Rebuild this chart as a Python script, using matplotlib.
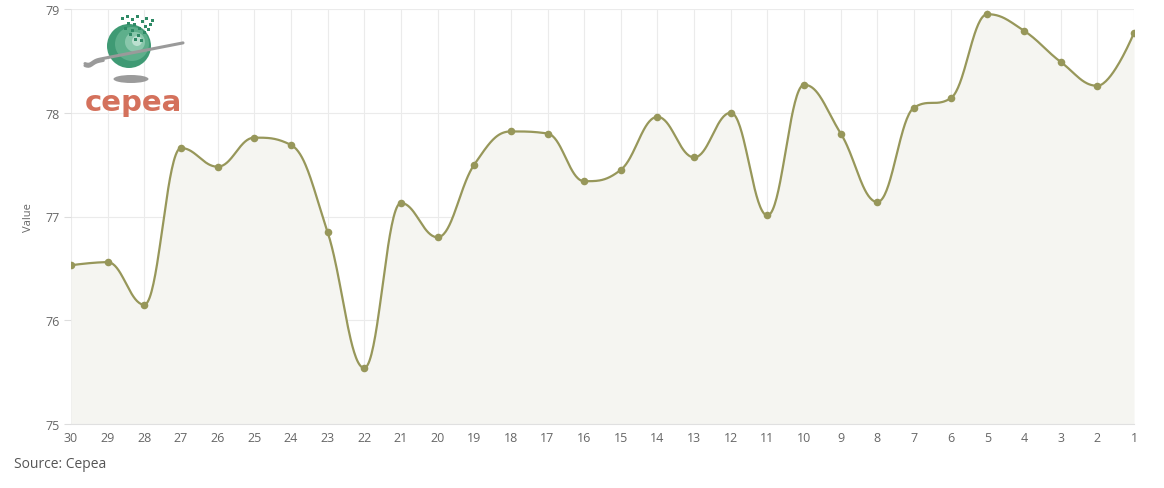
import numpy as np
import matplotlib
matplotlib.use("Agg")
import matplotlib.pyplot as plt
from matplotlib.patches import Circle, Ellipse

# ---- data ----
days = [30, 29, 28, 27, 26, 25, 24, 23, 22, 21, 20, 19, 18, 17, 16,
        15, 14, 13, 12, 11, 10, 9, 8, 7, 6, 5, 4, 3, 2, 1]
values = [76.53, 76.56, 76.15, 77.66, 77.48, 77.76, 77.69, 76.85, 75.54, 77.13,
          76.80, 77.50, 77.82, 77.80, 77.34, 77.45, 77.96, 77.57, 78.00, 77.01,
          78.27, 77.80, 77.14, 78.05, 78.14, 78.95, 78.79, 78.49, 78.26, 78.77]
y_ticks = [75, 76, 77, 78, 79]
y_label = "Value"
source_text = "Source: Cepea"

plt.rcParams['font.family'] = ['Open Sans', 'DejaVu Sans']

LINE = "#97975a"
FILL = "#f5f5f1"
GRID = "#ebebeb"
TXT = "#666666"


def spline_points(xs, ys, n=40, smoothing=1.5):
    xs = np.asarray(xs, float)
    ys = np.asarray(ys, float)
    N = len(xs)
    denom = smoothing + 1
    lc = [(xs[i], ys[i]) for i in range(N)]
    rc = [(xs[i], ys[i]) for i in range(N)]
    for i in range(1, N - 1):
        px, py = xs[i], ys[i]
        lx, ly = xs[i - 1], ys[i - 1]
        nx, ny = xs[i + 1], ys[i + 1]
        lcx = (smoothing * px + lx) / denom
        lcy = (smoothing * py + ly) / denom
        rcx = (smoothing * px + nx) / denom
        rcy = (smoothing * py + ny) / denom
        if rcx != lcx:
            corr = ((rcy - lcy) * (rcx - px)) / (rcx - lcx) + py - rcy
            lcy += corr
            rcy += corr
        if lcy > max(ly, py):
            lcy = max(ly, py); rcy = 2 * py - lcy
        elif lcy < min(ly, py):
            lcy = min(ly, py); rcy = 2 * py - lcy
        if rcy > max(py, ny):
            rcy = max(py, ny); lcy = 2 * py - rcy
        elif rcy < min(py, ny):
            rcy = min(py, ny); lcy = 2 * py - rcy
        lc[i] = (lcx, lcy)
        rc[i] = (rcx, rcy)
    t = np.linspace(0, 1, n)
    outx, outy = [xs[0]], [ys[0]]
    for i in range(1, N):
        p0 = (xs[i - 1], ys[i - 1]); p1 = rc[i - 1]; p2 = lc[i]; p3 = (xs[i], ys[i])
        bx = ((1 - t) ** 3 * p0[0] + 3 * (1 - t) ** 2 * t * p1[0]
              + 3 * (1 - t) * t ** 2 * p2[0] + t ** 3 * p3[0])
        by = ((1 - t) ** 3 * p0[1] + 3 * (1 - t) ** 2 * t * p1[1]
              + 3 * (1 - t) * t ** 2 * p2[1] + t ** 3 * p3[1])
        outx.extend(bx[1:]); outy.extend(by[1:])
    return np.array(outx), np.array(outy)


fig = plt.figure(figsize=(11.64, 4.89), dpi=100)
ax = fig.add_axes([71 / 1164, (489 - 425) / 489, (1134 - 71) / 1164, 415 / 489])

x = np.arange(len(days))
sx, sy = spline_points(x, values)

ax.fill_between(sx, sy, 75, color=FILL, zorder=1, linewidth=0)
ax.plot(sx, sy, color=LINE, lw=1.6, zorder=3, solid_capstyle="round")
ax.scatter(x, values, s=30, color=LINE, zorder=4, linewidths=0)

ax.set_xlim(0, len(days) - 1)
ax.set_ylim(75, 79)
ax.set_xticks(x)
ax.set_xticklabels([str(d) for d in days])
ax.set_yticks(y_ticks)
ax.set_yticklabels([str(v) for v in y_ticks])
ax.grid(True, color=GRID, lw=0.8, zorder=0)
ax.set_axisbelow(True)
for s in ["top", "right", "left"]:
    ax.spines[s].set_visible(False)
ax.spines["bottom"].set_color("#e0e0e0")
ax.spines["bottom"].set_linewidth(0.8)
ax.tick_params(axis="x", colors="#e6e6e6", labelcolor=TXT, labelsize=9, length=0, pad=5)
ax.tick_params(axis="y", colors="#dddddd", labelcolor=TXT, labelsize=9, length=5, pad=3)
ax.set_ylabel(y_label, color=TXT, fontsize=8, labelpad=8)

fig.text(14 / 1164, 1 - 465 / 489, source_text, fontsize=10, color="#555555", va="center", ha="left")

# ---- logo (approximation) ----
lax = fig.add_axes([80 / 1164, 1 - 115 / 489, 110 / 1164, 105 / 489])
lax.set_xlim(0, 110)
lax.set_ylim(105, 0)
lax.set_aspect("equal")
lax.axis("off")
lax.add_patch(Ellipse((51, 70), 35, 8, color="#8a8a8a", alpha=0.85, lw=0))
lax.add_patch(Circle((49, 37), 22, color="#3f9a74", lw=0))
lax.add_patch(Circle((52, 35), 17, color="#6cb896", lw=0, alpha=0.7))
lax.add_patch(Circle((55, 33), 10, color="#a6d8c2", lw=0, alpha=0.6))
lax.add_patch(Circle((57, 32), 5, color="#dff1e9", lw=0, alpha=0.6))
ox = np.linspace(5, 103, 60)
oy = 53 - (ox - 5) * 0.195 + 3 * np.exp(-((ox - 9) / 5) ** 2)
lax.plot(ox, oy, color="#9a9a9a", lw=2.2, solid_capstyle="round")
lax.plot(ox[:12], oy[:12] + 2, color="#9a9a9a", lw=2.2, solid_capstyle="round")
for (px, py) in [(41, 8), (46, 6), (51, 9), (56, 6), (61, 11), (65, 8), (69, 14), (53, 14),
                 (58, 18), (47, 13), (63, 22), (57, 25), (67, 19), (51, 20), (44, 18),
                 (60, 30), (54, 29), (64, 16), (71, 10), (49, 24)]:
    lax.add_patch(plt.Rectangle((px, py), 3, 3, color="#2f8a66", lw=0))
lax.text(53, 93, "cepea", fontsize=21, fontweight="bold", color="#d4715c",
         ha="center", va="center", family=["DejaVu Sans"])

fig.savefig("out.png", dpi=100)
